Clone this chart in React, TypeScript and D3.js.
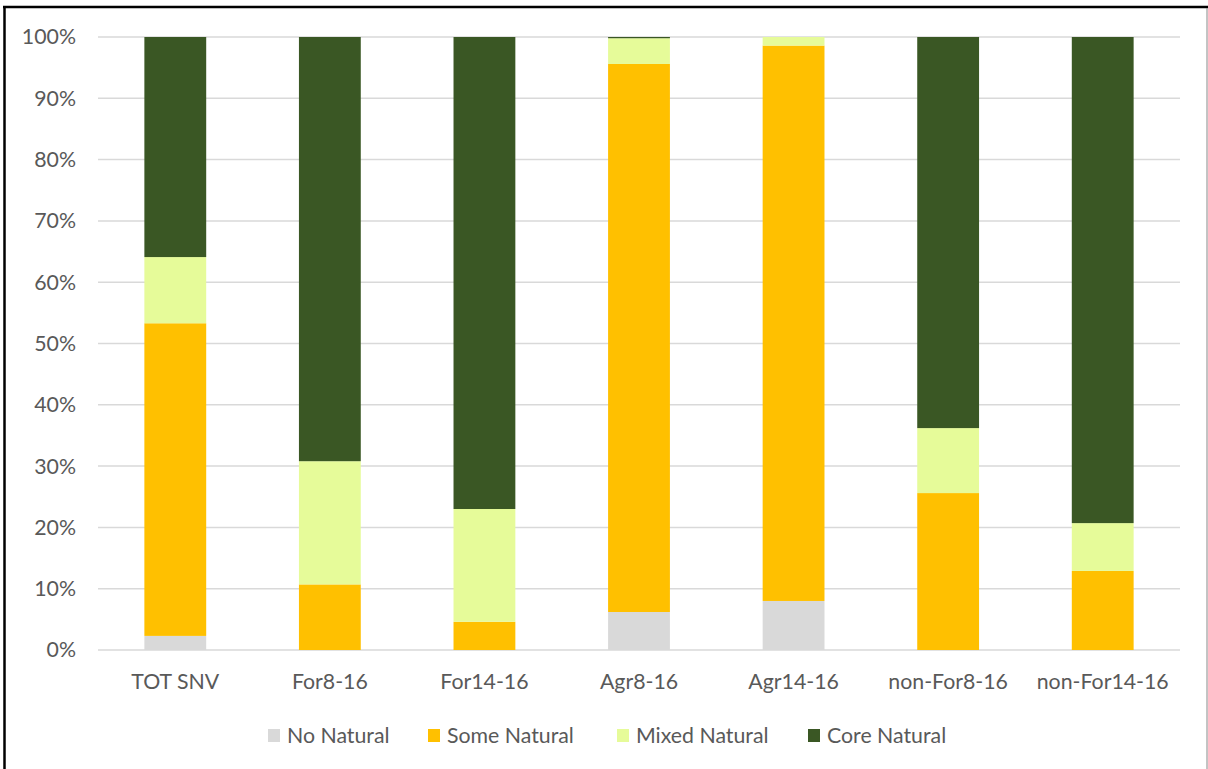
import React from "react";
import * as d3 from "d3";

const categories = ["TOT SNV", "For8-16", "For14-16", "Agr8-16", "Agr14-16", "non-For8-16", "non-For14-16"];
const seriesNames = ["No Natural", "Some Natural", "Mixed Natural", "Core Natural"];
const noNatural = [2.3, 0, 0, 6.2, 8.0, 0, 0];
const someNatural = [51.0, 10.7, 4.6, 89.4, 90.6, 25.6, 12.9];
const mixedNatural = [10.8, 20.1, 18.4, 4.2, 1.4, 10.6, 7.8];
const coreNatural = [35.9, 69.2, 77.0, 0.2, 0.0, 63.8, 79.3];
const colors = ["#d9d9d9", "#ffc000", "#e6fb99", "#3a5724"];
const yTicks = [0, 10, 20, 30, 40, 50, 60, 70, 80, 90, 100];

const W = 1208;
const H = 769;
const FONT = "Lato, 'Open Sans', sans-serif";
const FS = 21.3;

export default function App() {
  const rows = categories.map((c, i) => ({
    cat: c,
    "No Natural": noNatural[i],
    "Some Natural": someNatural[i],
    "Mixed Natural": mixedNatural[i],
    "Core Natural": coreNatural[i],
  }));
  const stacked = d3.stack<any>().keys(seriesNames)(rows);

  const x = d3.scaleBand().domain(categories).range([98, 1180]).paddingInner(0.6).paddingOuter(0.3);
  const y = d3.scaleLinear().domain([0, 100]).range([650, 37]);

  const legendX = [268, 428, 617, 808];

  return (
    <svg width={W} height={H} style={{ position: "absolute", left: 0, top: 0, background: "#fff" }}>
      <rect x={0} y={0} width={W} height={H} fill="#fff" />
      {/* frame */}
      <line x1={3} y1={7} x2={W} y2={7} stroke="#000" strokeWidth={2.5} />
      <line x1={4.5} y1={6} x2={4.5} y2={H} stroke="#000" strokeWidth={2.5} />
      <line x1={1207} y1={8} x2={1207} y2={H} stroke="#888" strokeWidth={1} />

      {/* gridlines */}
      {yTicks.map((t) => (
        <line key={t} x1={98} x2={1180} y1={y(t)} y2={y(t)} stroke="#d9d9d9" strokeWidth={1.5} />
      ))}
      {yTicks.map((t) => (
        <text key={"l" + t} x={76} y={y(t)} dy="0.35em" textAnchor="end" fontFamily={FONT} fontSize={FS} fill="#595959">
          {t}%
        </text>
      ))}

      {/* bars */}
      {stacked.map((s, si) => (
        <g key={s.key} fill={colors[si]}>
          {s.map((d, i) => {
            const h = y(d[0]) - y(d[1]);
            if (h <= 0) return null;
            return <rect key={i} x={x(categories[i])} y={y(d[1])} width={x.bandwidth()} height={h} />;
          })}
        </g>
      ))}

      {/* category labels */}
      {categories.map((c) => (
        <text key={c} x={(x(c) as number) + x.bandwidth() / 2} y={682} dy="0.35em" textAnchor="middle" fontFamily={FONT} fontSize={FS} fill="#595959">
          {c}
        </text>
      ))}

      {/* legend */}
      {seriesNames.map((n, i) => (
        <g key={n}>
          <rect x={legendX[i]} y={729} width={12} height={13} fill={colors[i]} />
          <text x={legendX[i] + 19} y={735.5} dy="0.35em" fontFamily={FONT} fontSize={FS} fill="#595959">
            {n}
          </text>
        </g>
      ))}
    </svg>
  );
}
